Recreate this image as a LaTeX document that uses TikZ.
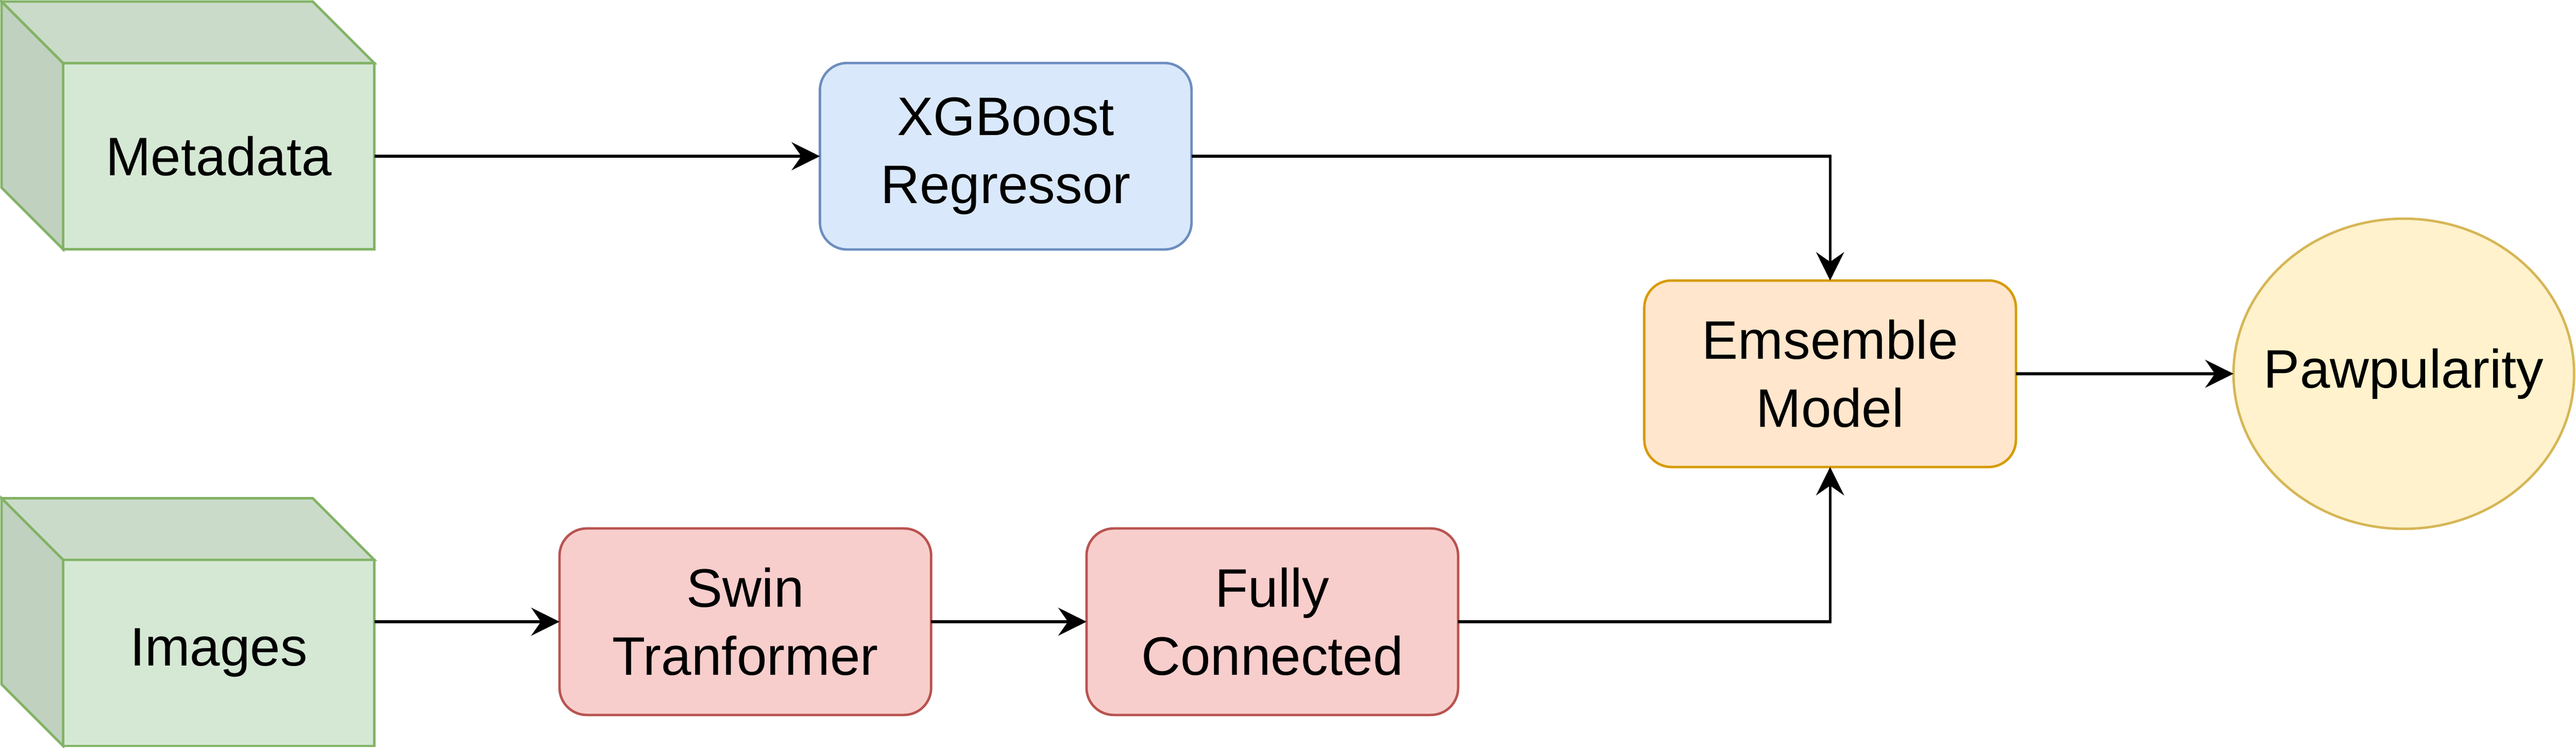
\documentclass[tikz,border=0pt]{standalone}
\usepackage{fontspec}
\setmainfont{Liberation Sans}
\usepackage{tikz}
\usetikzlibrary{calc,positioning,arrows.meta,shapes.geometric}

\definecolor{greenfill}{HTML}{D5E8D4}
\definecolor{greenline}{HTML}{82B366}
\definecolor{greentop}{HTML}{CADCC9}
\definecolor{greenside}{HTML}{C0D1BF}
\definecolor{bluefill}{HTML}{DAE8FC}
\definecolor{blueline}{HTML}{6C8EBF}
\definecolor{redfill}{HTML}{F8CECC}
\definecolor{redline}{HTML}{B85450}
\definecolor{orangefill}{HTML}{FFE6CC}
\definecolor{orangeline}{HTML}{D79B00}
\definecolor{yellowfill}{HTML}{FFF2CC}
\definecolor{yellowline}{HTML}{D6B656}

\begin{document}
\begin{tikzpicture}[x=1cm, y=1cm, >={Stealth[length=7.3mm, width=7.2mm, inset=2.5mm]}]
  \useasboundingbox (0,0) rectangle (66.48,19.28);

  % ---- Styles -------------------------------------------------
  \tikzstyle{txt}=[font=\fontsize{39.8}{50}\selectfont, align=center, text=black]
  \tikzstyle{block}=[txt, rectangle, rounded corners=0.7cm, line width=1.8pt,
                     minimum width=9.59cm, minimum height=4.81cm,
                     inner sep=0pt, outer sep=0pt]
  \tikzstyle{cubeface}=[txt, rectangle, fill=greenfill, draw=greenline,
                        line width=1.8pt, minimum width=8.03cm,
                        minimum height=4.80cm, inner sep=0pt, outer sep=0pt]
  \tikzstyle{cubeside}=[draw=greenline, line width=1.8pt]
  \tikzstyle{flow}=[->, line width=2pt]

  % ---- Input cubes (front face is the node) -------------------
  \node[cubeface] (meta) at (5.645,15.25) {Metadata};
  \node[cubeface] (img)  at (5.645,2.44)  {Images};

  \foreach \c in {meta, img} {
    \draw[cubeside, fill=greentop]
      (\c.north west) -- ++(-1.59,1.59) -- ++(8.03,0) -- (\c.north east) -- cycle;
    \draw[cubeside, fill=greenside]
      (\c.north west) -- ++(-1.59,1.59) -- ++(0,-4.80) -- (\c.south west) -- cycle;
  }

  % ---- Model blocks -------------------------------------------
  \node[block, fill=bluefill, draw=blueline]     (xgb)  at (25.955,15.25) {XGBoost\\Regressor};
  \node[block, fill=redfill, draw=redline]       (swin) at (19.235,3.245) {Swin\\Tranformer};
  \node[block, fill=redfill, draw=redline]       (fc)   at (32.835,3.245) {Fully\\Connected};
  \node[block, fill=orangefill, draw=orangeline] (ens)  at (47.23,9.64)   {Emsemble\\Model};

  % ---- Output -------------------------------------------------
  \node[txt, ellipse, fill=yellowfill, draw=yellowline, line width=1.8pt,
        minimum width=8.79cm, minimum height=8.00cm, inner xsep=-1cm,
        inner ysep=0pt, outer sep=0pt] (paw) at (62.035,9.64) {Pawpularity};

  % ---- Connectors ---------------------------------------------
  \draw[flow] (meta.east) -- (xgb.west);
  \draw[flow] (xgb.east) -| (ens.north);
  \draw[flow] (img.east |- swin.west) -- (swin.west);
  \draw[flow] (swin.east) -- (fc.west);
  \draw[flow] (fc.east) -| (ens.south);
  \draw[flow] (ens.east) -- (paw.west);

\end{tikzpicture}
\end{document}
